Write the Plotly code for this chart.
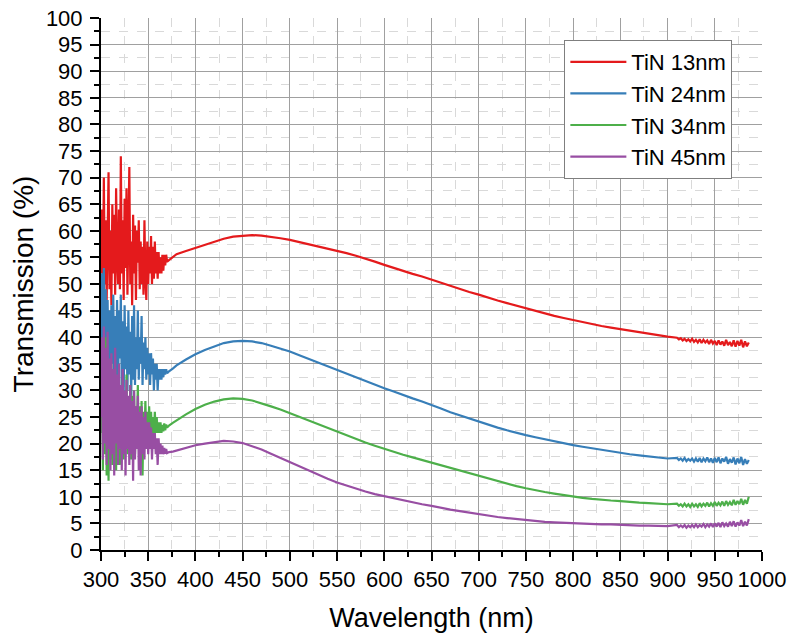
import plotly.graph_objects as go

# ---------------- data ----------------
WL_NOISY = list(range(300, 371))            # 300..370 nm, 1 nm step
WL_SMOOTH = [372, 376] + list(range(380, 901, 10))
WL_TAIL = list(range(910, 987, 2))
WAVELENGTH = WL_NOISY + WL_SMOOTH + WL_TAIL

RED_NOISY = [52, 64, 48, 70, 50, 62, 47, 66, 71, 49,
             60, 46, 65, 52, 63, 48, 68, 55, 50, 64,
             49, 74, 52, 62, 47, 66, 53, 68, 48, 60,
             72, 50, 58, 46, 63, 52, 61, 47, 60, 54,
             62, 49, 58, 50, 57, 48, 62, 51, 47, 58,
             50, 57, 52, 59, 50, 57, 51, 58, 52, 56,
             51, 56, 52, 55, 52, 55.5, 52.5, 55.5, 53.5, 55.5, 54.2]
RED_SMOOTH = [54.5, 55.1,
              55.6, 56.2, 56.8, 57.4, 58.0, 58.5, 58.9, 59.1, 59.2, 59.1,
              58.9, 58.6, 58.3, 57.9, 57.5, 57.1, 56.7, 56.3, 55.8, 55.3,
              54.8, 54.2, 53.6, 53.0, 52.5, 51.9, 51.4, 50.8, 50.2, 49.6,
              49.0, 48.5, 48.0, 47.4, 46.9, 46.4, 45.9, 45.4, 44.9, 44.5,
              44.0, 43.6, 43.2, 42.8, 42.5, 42.1, 41.8, 41.5, 41.2, 40.9,
              40.6, 40.3, 40.1]
RED_TAIL = [39.9, 39.6, 39.8, 39.4, 39.7, 39.3, 39.6, 39.2, 39.7, 39.1,
            39.5, 39.0, 39.6, 38.9, 39.5, 39.0, 39.4, 38.7, 39.5, 38.8,
            39.3, 38.5, 39.4, 38.6, 39.2, 38.4, 39.5, 38.5, 39.1, 38.3,
            39.4, 38.2, 39.3, 38.4, 39.5, 38.1, 39.2, 38.3, 39.0]

BLUE_NOISY = [38, 52, 30, 53, 34, 49, 29, 47, 33, 45,
              28, 46, 35, 48, 30, 44, 32, 47, 29, 45,
              36, 48, 31, 43, 29, 46, 34, 42, 30, 45,
              33, 41, 29, 44, 32, 46, 31, 40, 34, 45,
              32, 40, 35, 44, 31, 39, 34, 40, 32, 38,
              33, 37, 31, 37, 33, 36, 30, 35, 32, 35,
              30, 34, 32, 34, 32, 34, 32.5, 34, 33, 34, 33.2]
BLUE_SMOOTH = [33.6, 34.1,
               34.7, 35.8, 36.8, 37.6, 38.3, 38.9, 39.2, 39.3, 39.2, 38.9,
               38.4, 37.9, 37.3, 36.6, 35.9, 35.2, 34.6, 33.9, 33.2, 32.5,
               31.8, 31.1, 30.4, 29.8, 29.1, 28.5, 27.9, 27.3, 26.6, 25.9,
               25.3, 24.7, 24.1, 23.5, 23.0, 22.5, 22.0, 21.6, 21.2, 20.8,
               20.4, 20.0, 19.7, 19.4, 19.1, 18.8, 18.5, 18.3, 18.0, 17.8,
               17.6, 17.4, 17.2]
BLUE_TAIL = [17.3, 16.9, 17.2, 16.8, 17.3, 16.7, 17.1, 16.8, 17.2, 16.6,
             17.2, 16.6, 17.3, 16.5, 17.2, 16.7, 17.4, 16.5, 17.2, 16.4,
             17.3, 16.5, 17.4, 16.3, 17.2, 16.6, 17.5, 16.2, 17.1, 16.4,
             17.4, 16.1, 17.2, 16.3, 17.5, 16.0, 17.1, 16.2, 16.9]

GREEN_NOISY = [22, 36, 15, 38, 18, 40, 14, 34, 13, 33,
               17, 35, 16, 31, 19, 34, 15, 30, 18, 33,
               16, 31, 20, 32, 17, 29, 19, 33, 18, 28,
               21, 31, 17, 29, 20, 30, 18, 27, 21, 31,
               19, 27, 17, 28, 14, 26, 20, 28, 21, 26,
               22, 27, 21, 26, 22, 25, 21, 26, 22, 25,
               22, 24, 22, 24, 22, 23.5, 22.3, 23.8, 22.5, 23.6, 23.0]
GREEN_SMOOTH = [23.4, 23.9,
                24.4, 25.5, 26.5, 27.3, 27.9, 28.3, 28.5, 28.4, 28.1, 27.6,
                27.0, 26.4, 25.7, 25.0, 24.3, 23.6, 22.9, 22.2, 21.5, 20.9,
                20.2, 19.6, 19.0, 18.5, 17.9, 17.4, 16.9, 16.4, 15.9, 15.4,
                14.9, 14.4, 13.9, 13.4, 12.9, 12.4, 12.0, 11.6, 11.2, 10.9,
                10.6, 10.3, 10.0, 9.8, 9.6, 9.4, 9.3, 9.2, 9.0, 8.9,
                8.8, 8.7, 8.6]
GREEN_TAIL = [8.7, 8.3, 8.6, 8.2, 8.7, 8.2, 8.6, 8.1, 8.7, 8.2,
              8.6, 8.1, 8.8, 8.2, 8.7, 8.3, 8.9, 8.2, 8.8, 8.3,
              9.0, 8.3, 8.9, 8.4, 9.1, 8.3, 9.2, 8.5, 9.0, 8.4,
              9.4, 8.5, 9.2, 8.6, 9.6, 8.5, 9.4, 8.7, 10.0]

PURPLE_NOISY = [25, 40, 17, 42, 20, 38, 16, 41, 19, 36,
                15, 37, 18, 34, 14, 38, 20, 33, 16, 35,
                19, 31, 15, 34, 18, 30, 14, 32, 19, 29,
                16, 31, 18, 28, 13, 30, 17, 27, 19, 29,
                15, 26, 14, 27, 18, 25, 17, 26, 19, 24,
                18, 24, 19, 23, 17, 22, 19, 22, 18, 21,
                16, 21, 18, 20, 18, 19.6, 18, 19.2, 18.1, 19, 18.2]
PURPLE_SMOOTH = [18.4, 18.5,
                 18.7, 19.3, 19.7, 20.0, 20.3, 20.5, 20.4, 20.1, 19.5, 18.9,
                 18.1, 17.3, 16.5, 15.7, 14.9, 14.1, 13.4, 12.7, 12.1, 11.5,
                 11.0, 10.5, 10.1, 9.7, 9.3, 8.9, 8.6, 8.3, 7.9, 7.6,
                 7.3, 7.0, 6.8, 6.5, 6.2, 6.0, 5.8, 5.6, 5.4, 5.3,
                 5.2, 5.1, 5.0, 4.9, 4.9, 4.8, 4.8, 4.7, 4.7, 4.6,
                 4.6, 4.5, 4.5]
PURPLE_TAIL = [4.7, 4.3, 4.6, 4.3, 4.7, 4.2, 4.6, 4.3, 4.7, 4.3,
               4.8, 4.3, 4.7, 4.4, 4.9, 4.3, 4.8, 4.4, 5.0, 4.3,
               5.0, 4.4, 5.1, 4.3, 5.2, 4.5, 5.0, 4.4, 5.3, 4.5,
               5.4, 4.4, 5.2, 4.6, 5.6, 4.5, 5.3, 4.6, 5.8]

SERIES = [
    ("TiN 13nm", RED_NOISY + RED_SMOOTH + RED_TAIL, "#e41a1c"),
    ("TiN 24nm", BLUE_NOISY + BLUE_SMOOTH + BLUE_TAIL, "#377eb8"),
    ("TiN 34nm", GREEN_NOISY + GREEN_SMOOTH + GREEN_TAIL, "#4daf4a"),
    ("TiN 45nm", PURPLE_NOISY + PURPLE_SMOOTH + PURPLE_TAIL, "#984ea3"),
]

X_TICKS = list(range(300, 1001, 50))
Y_TICKS = list(range(0, 101, 5))

# ---------------- figure ----------------
FONT = "Arial, Liberation Sans, sans-serif"
fig = go.Figure()
for name, vals, color in SERIES:
    fig.add_trace(go.Scatter(x=WAVELENGTH, y=vals, mode="lines", name=name,
                             line=dict(color=color, width=2.2)))

axis_common = dict(
    showline=True, linecolor="black", linewidth=2, mirror=False,
    ticks="outside", ticklen=9, tickwidth=2, tickcolor="black",
    showgrid=True, gridcolor="#a0a0a0", gridwidth=1,
    zeroline=False,
    tickfont=dict(family=FONT, size=22, color="black"),
)

fig.update_xaxes(
    range=[300, 1000], tickvals=X_TICKS, ticktext=[str(v) for v in X_TICKS],
    minor=dict(dtick=25, tick0=300, ticks="outside", ticklen=5, tickwidth=2,
               tickcolor="black", showgrid=True, gridcolor="#d9d9d9",
               griddash="dash", gridwidth=1),
    title=dict(text="Wavelength (nm)", font=dict(family=FONT, size=27, color="black"),
               standoff=17),
    automargin=False,
    **axis_common,
)
fig.update_yaxes(
    range=[0, 100], tickvals=Y_TICKS, ticktext=[str(v) for v in Y_TICKS],
    minor=dict(dtick=2.5, tick0=0, ticks="outside", ticklen=5, tickwidth=2,
               tickcolor="black", showgrid=True, gridcolor="#d9d9d9",
               griddash="dash", gridwidth=1),
    title=dict(text="Transmission (%)", font=dict(family=FONT, size=28, color="black"),
               standoff=4),
    ticklabelstandoff=3,
    automargin=False,
    **axis_common,
)

fig.update_layout(
    width=787, height=637,
    margin=dict(l=101, r=25, t=18, b=87),
    paper_bgcolor="white", plot_bgcolor="white",
    font=dict(family=FONT, color="black"),
    showlegend=True,
    legend=dict(x=0.701, y=0.9586, xanchor="left", yanchor="top",
                bgcolor="white", bordercolor="#7f7f7f", borderwidth=1,
                font=dict(family=FONT, size=22, color="black"),
                itemwidth=56, tracegroupgap=0),
)

fig.write_html("out.html")
